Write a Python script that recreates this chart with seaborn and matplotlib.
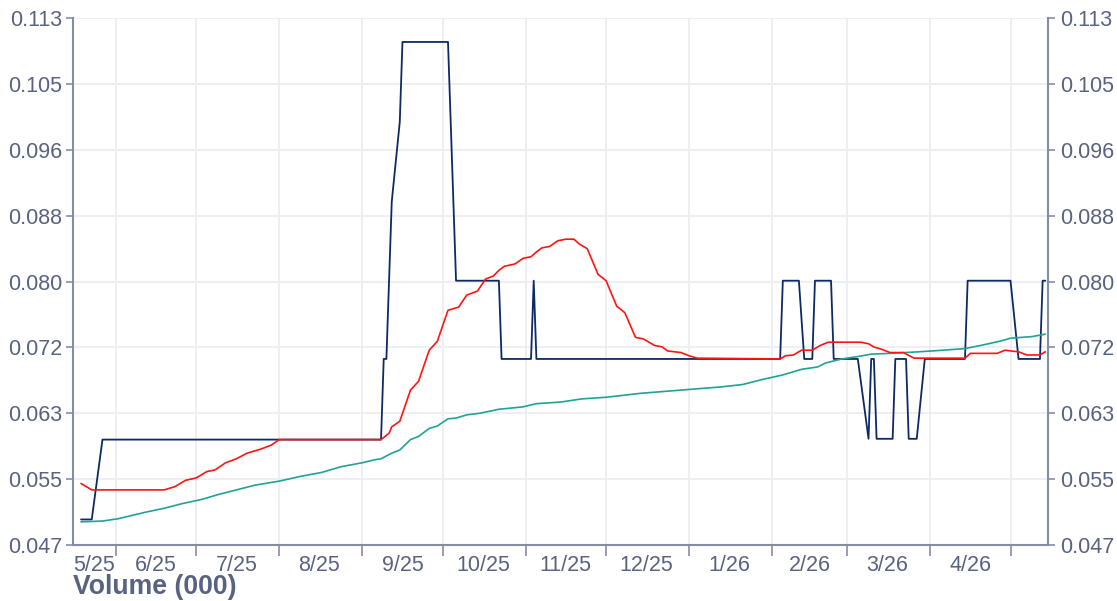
import pandas as pd
import numpy as np
import matplotlib
matplotlib.use('Agg')
import matplotlib.pyplot as plt
import matplotlib.dates as mdates
from matplotlib.ticker import FixedLocator, FixedFormatter, NullFormatter
import seaborn as sns

# ------------------------------------------------------- #
#                          DATOS                          #
# ------------------------------------------------------- #
# precio (solo vertices de la linea)
price_dates = ['2025-05-19', '2025-05-23', '2025-05-27', '2025-09-08', '2025-09-09',
               '2025-09-10', '2025-09-12', '2025-09-15', '2025-09-16', '2025-10-03',
               '2025-10-06', '2025-10-22', '2025-10-23', '2025-11-03', '2025-11-04',
               '2025-11-05', '2026-02-04', '2026-02-05', '2026-02-11', '2026-02-13',
               '2026-02-16', '2026-02-17', '2026-02-23', '2026-02-24', '2026-03-05',
               '2026-03-09', '2026-03-10', '2026-03-11', '2026-03-12', '2026-03-18',
               '2026-03-19', '2026-03-23', '2026-03-24', '2026-03-27', '2026-03-30',
               '2026-04-14', '2026-04-15', '2026-05-01', '2026-05-04', '2026-05-12',
               '2026-05-13', '2026-05-14']
price_vals = [0.0502, 0.0502, 0.0602, 0.0602, 0.0703,
              0.0703, 0.0900, 0.1000, 0.1100, 0.1100,
              0.0801, 0.0801, 0.0703, 0.0703, 0.0801,
              0.0703, 0.0703, 0.0801, 0.0801, 0.0703,
              0.0703, 0.0801, 0.0801, 0.0703, 0.0703,
              0.0603, 0.0703, 0.0703, 0.0603, 0.0603,
              0.0703, 0.0703, 0.0603, 0.0603, 0.0703,
              0.0703, 0.0801, 0.0801, 0.0703, 0.0703,
              0.0801, 0.0801]

# media movil corta (roja)
ma_short_dates = ['2025-05-19', '2025-05-23', '2025-06-19', '2025-06-23', '2025-06-27',
                  '2025-07-01', '2025-07-05', '2025-07-08', '2025-07-12', '2025-07-16',
                  '2025-07-20', '2025-07-25', '2025-07-29', '2025-08-01', '2025-09-08',
                  '2025-09-11', '2025-09-12', '2025-09-15', '2025-09-19', '2025-09-22',
                  '2025-09-26', '2025-09-29', '2025-10-03', '2025-10-07', '2025-10-10',
                  '2025-10-14', '2025-10-17', '2025-10-20', '2025-10-22', '2025-10-24',
                  '2025-10-28', '2025-10-31', '2025-11-03', '2025-11-05', '2025-11-07',
                  '2025-11-10', '2025-11-13', '2025-11-16', '2025-11-19', '2025-11-21',
                  '2025-11-24', '2025-11-28', '2025-12-01', '2025-12-05', '2025-12-08',
                  '2025-12-12', '2025-12-15', '2025-12-19', '2025-12-22', '2025-12-24',
                  '2025-12-29', '2026-01-01', '2026-01-04', '2026-02-04', '2026-02-06',
                  '2026-02-09', '2026-02-12', '2026-02-16', '2026-02-19', '2026-02-22',
                  '2026-03-06', '2026-03-09', '2026-03-11', '2026-03-14', '2026-03-17',
                  '2026-03-22', '2026-03-26', '2026-04-14', '2026-04-16', '2026-04-26',
                  '2026-04-29', '2026-05-01', '2026-05-04', '2026-05-07', '2026-05-12',
                  '2026-05-14']
ma_short_vals = [0.0547, 0.0539, 0.0539, 0.0543, 0.0551,
                 0.0554, 0.0562, 0.0564, 0.0573, 0.0578,
                 0.0585, 0.0590, 0.0595, 0.0602, 0.0602,
                 0.0610, 0.0618, 0.0625, 0.0664, 0.0675,
                 0.0714, 0.0725, 0.0764, 0.0768, 0.0783,
                 0.0788, 0.0803, 0.0807, 0.0814, 0.0819,
                 0.0822, 0.0829, 0.0831, 0.0837, 0.0842,
                 0.0844, 0.0851, 0.0853, 0.0853, 0.0847,
                 0.0841, 0.0809, 0.0801, 0.0769, 0.0761,
                 0.0730, 0.0728, 0.0720, 0.0718, 0.0713,
                 0.0711, 0.0707, 0.0704, 0.0703, 0.0707,
                 0.0708, 0.0714, 0.0714, 0.0720, 0.0724,
                 0.0724, 0.0722, 0.0718, 0.0715, 0.0711,
                 0.0711, 0.0704, 0.0704, 0.0710, 0.0710,
                 0.0714, 0.0713, 0.0712, 0.0708, 0.0708,
                 0.0712]

# media movil larga (verde azulado)
ma_long_dates = ['2025-05-19', '2025-05-27', '2025-06-02', '2025-06-07', '2025-06-12',
                 '2025-06-19', '2025-06-26', '2025-07-03', '2025-07-09', '2025-07-16',
                 '2025-07-23', '2025-08-01', '2025-08-09', '2025-08-17', '2025-08-24',
                 '2025-09-01', '2025-09-06', '2025-09-08', '2025-09-12', '2025-09-15',
                 '2025-09-19', '2025-09-22', '2025-09-26', '2025-09-29', '2025-10-03',
                 '2025-10-06', '2025-10-10', '2025-10-15', '2025-10-22', '2025-10-31',
                 '2025-11-05', '2025-11-14', '2025-11-22', '2025-12-01', '2025-12-14',
                 '2025-12-29', '2026-01-13', '2026-01-21', '2026-01-28', '2026-02-05',
                 '2026-02-12', '2026-02-18', '2026-02-21', '2026-02-27', '2026-03-05',
                 '2026-03-10', '2026-03-17', '2026-03-28', '2026-04-06', '2026-04-14',
                 '2026-04-20', '2026-04-28', '2026-05-01', '2026-05-09', '2026-05-14']
ma_long_vals = [0.0499, 0.0500, 0.0503, 0.0507, 0.0511,
                0.0516, 0.0522, 0.0527, 0.0533, 0.0539,
                0.0545, 0.0550, 0.0556, 0.0561, 0.0568,
                0.0573, 0.0577, 0.0578, 0.0585, 0.0589,
                0.0602, 0.0606, 0.0616, 0.0619, 0.0628,
                0.0629, 0.0633, 0.0635, 0.0640, 0.0643,
                0.0647, 0.0649, 0.0653, 0.0655, 0.0660,
                0.0664, 0.0668, 0.0671, 0.0677, 0.0683,
                0.0690, 0.0693, 0.0698, 0.0703, 0.0706,
                0.0709, 0.0710, 0.0712, 0.0714, 0.0716,
                0.0720, 0.0726, 0.0729, 0.0731, 0.0734]

y_ticks = [0.047, 0.05525, 0.0635, 0.07175, 0.080, 0.08825, 0.0965, 0.10475, 0.113]
y_labels = ['0.047', '0.055', '0.063', '0.072', '0.080', '0.088', '0.096', '0.105', '0.113']

month_starts = ['2025-06-01', '2025-07-01', '2025-08-01', '2025-09-01', '2025-10-01',
                '2025-11-01', '2025-12-01', '2026-01-01', '2026-02-01', '2026-03-01',
                '2026-04-01', '2026-05-01']
label_dates = ['2025-05-24', '2025-06-16', '2025-07-16', '2025-08-16', '2025-09-16',
               '2025-10-16', '2025-11-16', '2025-12-16', '2026-01-16', '2026-02-15',
               '2026-03-16', '2026-04-16']
month_labels = ['5/25', '6/25', '7/25', '8/25', '9/25', '10/25', '11/25', '12/25',
                '1/26', '2/26', '3/26', '4/26']

# ------------------------------------------------------- #
#                         ESTILO                          #
# ------------------------------------------------------- #
sns.set_style('white')
plt.rcParams['font.family'] = ['Liberation Sans', 'DejaVu Sans']

axis_col = '#878ca5'
text_col = '#5a6281'
grid_col = '#eceef4'
tick_fs = 15.5

fig = plt.figure(figsize=(11.17, 6.01), dpi=100)
ax = fig.add_axes([73 / 1117, 1 - 545 / 601, (1048 - 73) / 1117, (545 - 18) / 601])

# ------------------------------------------------------- #
#                         LINEAS                          #
# ------------------------------------------------------- #
sns.lineplot(x=pd.to_datetime(price_dates), y=price_vals, ax=ax,
             color='#0d2a66', linewidth=1.3)
sns.lineplot(x=pd.to_datetime(ma_long_dates), y=ma_long_vals, ax=ax,
             color='#20a396', linewidth=1.2)
sns.lineplot(x=pd.to_datetime(ma_short_dates), y=ma_short_vals, ax=ax,
             color='#ff1414', linewidth=1.2)

ax.set_xlim(pd.Timestamp('2025-05-16'), pd.Timestamp('2026-05-15'))
ax.set_ylim(0.047, 0.113)

# eje x: marcas en inicio de mes, etiquetas a mitad de mes
ax.xaxis.set_major_locator(FixedLocator(mdates.date2num(pd.to_datetime(month_starts))))
ax.xaxis.set_major_formatter(NullFormatter())
ax.xaxis.set_minor_locator(FixedLocator(mdates.date2num(pd.to_datetime(label_dates))))
ax.xaxis.set_minor_formatter(FixedFormatter(month_labels))
ax.tick_params(axis='x', which='major', bottom=True, length=8, width=1.2, color=axis_col)
ax.tick_params(axis='x', which='minor', bottom=True, length=0, pad=7,
               labelsize=tick_fs, labelcolor=text_col)

ax.set_yticks(y_ticks)
ax.set_yticklabels(y_labels)
ax.tick_params(axis='y', left=True, length=5, width=1.2, color=axis_col,
               labelsize=tick_fs, labelcolor=text_col, pad=3)

ax.grid(True, which='major', color=grid_col, linewidth=1.3)
ax.set_axisbelow(True)
ax.set_xlabel('')
ax.set_ylabel('')

for side in ['top', 'right']:
    ax.spines[side].set_visible(False)
for side in ['left', 'bottom']:
    ax.spines[side].set_color(axis_col)
    ax.spines[side].set_linewidth(1.5)

# eje derecho
ax2 = ax.twinx()
ax2.set_ylim(0.047, 0.113)
ax2.set_yticks(y_ticks)
ax2.set_yticklabels(y_labels)
ax2.tick_params(axis='y', right=True, length=5, width=1.2, color=axis_col,
                labelsize=tick_fs, labelcolor=text_col, pad=4)
for side in ['top', 'left', 'bottom']:
    ax2.spines[side].set_visible(False)
ax2.spines['right'].set_color(axis_col)
ax2.spines['right'].set_linewidth(1.5)

fig.text(73 / 1117, 1 - 594 / 601, 'Volume (000)', fontsize=19.2, fontweight='bold',
         color=text_col, ha='left', va='baseline')

fig.savefig('out.png', dpi=100)
